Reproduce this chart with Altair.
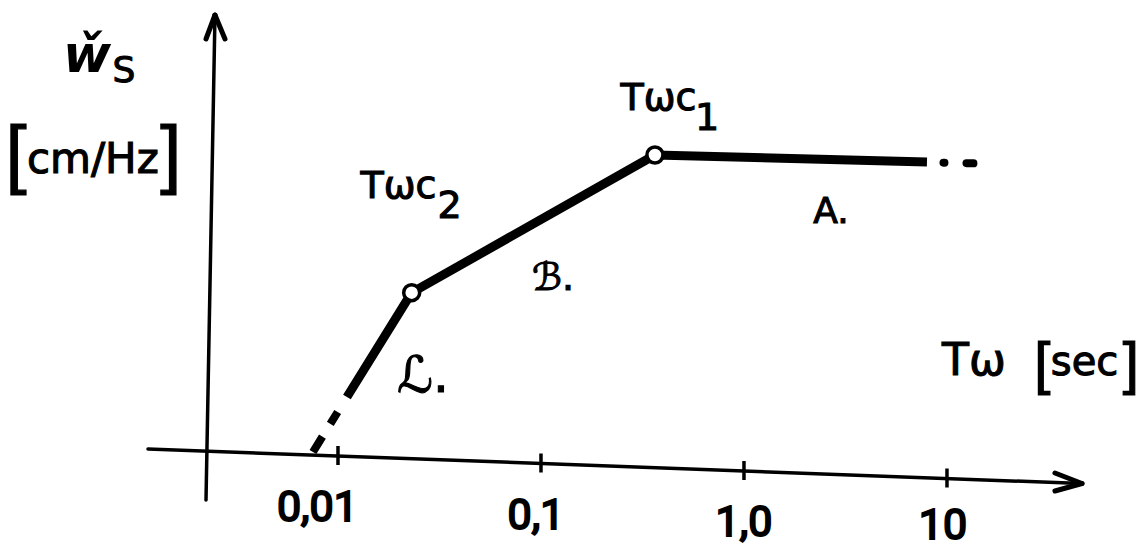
import altair as alt
import pandas as pd

# Log-period axis: T in seconds; amplitude axis in arbitrary units
X_DOMAIN = [2.163e-4, 89.3]
Y_DOMAIN = [-0.99, 4.5]

# Broken-line spectrum: start of solid part, Tωc2, Tωc1, end of plateau
curve_T = [0.01107, 0.02307, 0.3642, 7.97]
curve_y = [0.53, 1.573, 2.95, 2.88]

# Dashed continuations below the first segment and past the plateau
low_ext_T = [0.00753, 0.01107]
low_ext_y = [-0.02, 0.53]
high_ext_T = [9.61, 13.5]
high_ext_y = [2.873, 2.867]

# Corner periods (open circles)
corner_T = [0.02307, 0.3642]
corner_y = [1.573, 2.95]

# Period axis ticks
tick_T = [0.01, 0.1, 1.0, 10.0]
tick_top = [0.04, -0.035, -0.11, -0.185]
tick_bottom = [-0.15, -0.225, -0.30, -0.375]
tick_labels = ["0,01", "0,1", "1,0", "10"]
tick_label_T = [0.00792, 0.0945, 1.0, 9.56]
tick_label_y = [-0.71, -0.79, -0.86, -0.89]

# Axis lines and arrow heads as segments (T1, y1, T2, y2)
axis_T1 = [1.159e-3, 2.238e-3]
axis_y1 = [0.01, -0.50]
axis_T2 = [46.24, 2.478e-3]
axis_y2 = [-0.335, 4.35]

arrow_T1 = [34.04, 34.04, 2.238e-3, 2.776e-3]
arrow_y1 = [-0.23, -0.41, 4.11, 4.11]
arrow_T2 = [46.24, 46.24, 2.478e-3, 2.478e-3]
arrow_y2 = [-0.335, -0.335, 4.35, 4.35]

# Annotations
label_text = ["cm/Hz", "S", "Tωc", "2", "Tωc", "1", "ℬ.", "ℒ.", "A.", "Tω", "sec"]
label_T = [6.20e-4, 8.83e-4, 0.01986, 0.03542, 0.3792, 0.6590, 0.1146, 0.02623,
           2.683, 13.58, 47.6]
label_y = [2.77, 3.68, 2.52, 2.32, 3.40, 3.20, 1.60, 0.58, 2.27, 0.75, 0.75]
label_size = [42, 36, 38, 38, 38, 38, 38, 50, 36, 44, 40]

# Square brackets around the units
bracket_text = ["[", "]", "[", "]"]
bracket_T = [2.593e-4, 1.500e-3, 29.5, 80.5]
bracket_y = [2.71, 2.71, 0.67, 0.67]
bracket_size = [76, 76, 58, 58]

symbol_text = ["w\u030c"]
symbol_T = [5.80e-4]
symbol_y = [3.78]

FONT = "DejaVu Sans"

xs = alt.Scale(type="log", domain=X_DOMAIN, nice=False)
ys = alt.Scale(type="linear", domain=Y_DOMAIN, nice=False, zero=False)


def X(field="T"):
    return alt.X(f"{field}:Q", scale=xs, axis=None)


def Y(field="y"):
    return alt.Y(f"{field}:Q", scale=ys, axis=None)


curve = alt.Chart(pd.DataFrame({"T": curve_T, "y": curve_y})).mark_line(
    color="black", strokeWidth=9, strokeJoin="round", strokeCap="butt"
).encode(x=X(), y=Y(), order=alt.Order("T:Q"))

low_ext = alt.Chart(pd.DataFrame({"T": low_ext_T, "y": low_ext_y})).mark_line(
    color="black", strokeWidth=8, strokeDash=[18, 15, 14, 30], strokeCap="butt"
).encode(x=X(), y=Y(), order=alt.Order("T:Q"))

high_ext = alt.Chart(pd.DataFrame({"T": high_ext_T, "y": high_ext_y})).mark_line(
    color="black", strokeWidth=8, strokeDash=[1, 22, 7, 10], strokeCap="round"
).encode(x=X(), y=Y(), order=alt.Order("T:Q"))

corners = alt.Chart(pd.DataFrame({"T": corner_T, "y": corner_y})).mark_point(
    shape="circle", size=256, filled=True, fill="white", stroke="black",
    strokeWidth=3.5, opacity=1
).encode(x=X(), y=Y())

axes = alt.Chart(pd.DataFrame({"T1": axis_T1, "y1": axis_y1,
                               "T2": axis_T2, "y2": axis_y2})).mark_rule(
    color="black", strokeWidth=3.5, strokeCap="round"
).encode(x=X("T1"), y=Y("y1"), x2="T2:Q", y2="y2:Q")

arrows = alt.Chart(pd.DataFrame({"T1": arrow_T1, "y1": arrow_y1,
                                 "T2": arrow_T2, "y2": arrow_y2})).mark_rule(
    color="black", strokeWidth=5, strokeCap="round"
).encode(x=X("T1"), y=Y("y1"), x2="T2:Q", y2="y2:Q")

ticks = alt.Chart(pd.DataFrame({"T": tick_T, "top": tick_top,
                                "bottom": tick_bottom})).mark_rule(
    color="black", strokeWidth=3.5
).encode(x=X(), y=Y("top"), y2="bottom:Q")

tick_text = alt.Chart(pd.DataFrame({"T": tick_label_T, "y": tick_label_y,
                                    "text": tick_labels})).mark_text(
    font="Roboto", fontSize=43, align="center", baseline="alphabetic",
    color="black", stroke="black", strokeWidth=2
).encode(x=X(), y=Y(), text="text:N")

labels = alt.Chart(pd.DataFrame({"T": label_T, "y": label_y, "text": label_text,
                                 "size": label_size})).mark_text(
    font=FONT, align="center", baseline="alphabetic", color="black",
    stroke="black", strokeWidth=1.1
).encode(x=X(), y=Y(), text="text:N", size=alt.Size("size:Q", scale=None))

brackets = alt.Chart(pd.DataFrame({"T": bracket_T, "y": bracket_y,
                                   "text": bracket_text,
                                   "size": bracket_size})).mark_text(
    font="Liberation Sans", align="center", baseline="alphabetic",
    color="black", stroke="black", strokeWidth=1.2
).encode(x=X(), y=Y(), text="text:N", size=alt.Size("size:Q", scale=None))

symbol = alt.Chart(pd.DataFrame({"T": symbol_T, "y": symbol_y,
                                 "text": symbol_text})).mark_text(
    font=FONT, fontSize=52, fontStyle="italic", fontWeight="bold",
    align="center", baseline="alphabetic", color="black"
).encode(x=X(), y=Y(), text="text:N")

chart = alt.layer(
    axes, arrows, ticks, low_ext, high_ext, curve, corners,
    tick_text, labels, brackets, symbol
).properties(
    width=1140, height=549, padding=0,
    autosize=alt.AutoSizeParams(type="none"), background="white"
).configure_view(stroke=None)

chart.save("out.html", embed_options={"renderer": "svg", "actions": False})
